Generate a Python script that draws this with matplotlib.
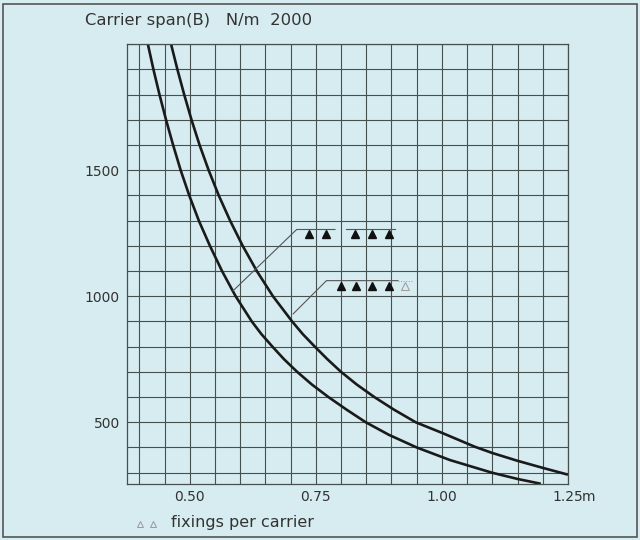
import matplotlib
matplotlib.use('Agg')
import matplotlib.pyplot as plt
from matplotlib.ticker import MultipleLocator, FixedLocator
from matplotlib.patches import Rectangle

"curve values read off the chart (span in m, load in N/m)"

span_low = [0.417, 0.428, 0.440, 0.453, 0.467, 0.482, 0.499, 0.518, 0.540, 0.564,
            0.591, 0.623, 0.642, 0.664, 0.687, 0.713, 0.742, 0.775, 0.811, 0.849,
            0.895, 0.950, 1.016, 1.099, 1.150, 1.196]
load_low = [2000, 1900, 1800, 1700, 1600, 1500, 1400, 1300, 1200, 1100,
            1000, 900, 850, 800, 750, 700, 650, 600, 550, 500,
            450, 400, 350, 300, 275, 256]

span_up = [0.463, 0.4755, 0.489, 0.5035, 0.5195, 0.5375, 0.5575, 0.580, 0.605, 0.633,
           0.665, 0.703, 0.724, 0.748, 0.773, 0.800, 0.831, 0.866, 0.905, 0.948,
           1.000, 1.065, 1.100, 1.150, 1.200, 1.250]
load_up = [2000, 1900, 1800, 1700, 1600, 1500, 1400, 1300, 1200, 1100,
           1000, 900, 850, 800, 750, 700, 650, 600, 550, 500,
           458, 403, 378, 347, 319, 292]

xticks = [0.50, 0.75, 1.00, 1.25]
xlabels = ['0.50', '0.75', '1.00', '1.25']
yticks = [500, 1000, 1500]
ylabels = ['500', '1000', '1500']

# callouts: leader line (x, y) and fixing triangles
lead1_x = [0.586, 0.712, 0.788]
lead1_y = [1022, 1265, 1265]
seg1_x = [0.809, 0.907]
seg1_y = [1265, 1265]
fix1_x = [0.737, 0.770, 0.827, 0.862, 0.895]
fix1_y = [1249] * 5

lead2_x = [0.705, 0.771, 0.913]
lead2_y = [930, 1062, 1062]
fix2_x = [0.800, 0.829, 0.862, 0.895]
fix2_y = [1039] * 4
opt2_x = [0.926]
opt2_y = [1039]

bg = '#d6ecf0'
gridc = '#46514f'
txt = '#333333'

fig = plt.figure(figsize=(6.4, 5.4), dpi=100, facecolor=bg)
ax = fig.add_axes([0.198, 0.1037, 0.6895, 0.8143], facecolor=bg)

ax.set_xlim(0.375, 1.25)
ax.set_ylim(255, 2000)

ax.xaxis.set_major_locator(FixedLocator(xticks))
ax.set_xticklabels(xlabels)
ax.xaxis.set_minor_locator(MultipleLocator(0.05))
ax.yaxis.set_major_locator(FixedLocator(yticks))
ax.set_yticklabels(ylabels)
ax.yaxis.set_minor_locator(MultipleLocator(100))

ax.grid(which='both', color=gridc, lw=0.8)
ax.set_axisbelow(True)
ax.tick_params(which='both', length=0, labelsize=10, labelcolor=txt)
ax.tick_params(axis='x', pad=4.5)
ax.tick_params(axis='y', pad=5)
for s in ax.spines.values():
    s.set_color(gridc)
    s.set_linewidth(0.9)

"curves"
ax.plot(span_low, load_low, color='#1a1a1a', lw=1.9, solid_capstyle='butt', solid_joinstyle='round')
ax.plot(span_up, load_up, color='#1a1a1a', lw=1.9, solid_capstyle='butt', solid_joinstyle='round',
        clip_on=False)

"callouts"
ax.plot(lead1_x, lead1_y, color='#555555', lw=0.8)
ax.plot(seg1_x, seg1_y, color='#555555', lw=0.8)
ax.plot(fix1_x, fix1_y, linestyle='', marker='^', ms=5.8, color='#111111')
ax.plot(lead2_x, lead2_y, color='#555555', lw=0.8)
ax.plot(fix2_x, fix2_y, linestyle='', marker='^', ms=5.8, color='#111111')
ax.plot(opt2_x, opt2_y, linestyle='', marker='^', ms=5.8, mfc='none', mec='#9a9a9a', mew=0.7)
ax.plot([0.913, 0.942], [1062, 1062], color='#9a9a9a', lw=0.7, linestyle=':')

"unit on last tick"
ax.annotate('m', xy=(1.25, 0), xycoords=('data', 'axes fraction'),
            xytext=(10.0, -4.5 * 100 / 72 / 1.389), textcoords='offset points',
            ha='left', va='top', fontsize=10, color=txt)

"title and note"
fig.text(85 / 640, 1 - 20 / 540, 'Carrier span(B)   N/m  2000', fontsize=11.8,
         color=txt, va='center', ha='left')
fig.text(171 / 640, 1 - 523 / 540, 'fixings per carrier', fontsize=11.5,
         color=txt, va='center', ha='left')
fig.lines.append(plt.Line2D([140 / 640, 153 / 640], [1 - 524 / 540] * 2, transform=fig.transFigure,
                            linestyle='', marker='^', ms=5, mfc='none', mec='#9a9a9a', mew=0.7))

fig.patches.append(Rectangle((3 / 640, 3 / 540), 634 / 640, 533 / 540, transform=fig.transFigure,
                             fill=False, edgecolor='#555555', lw=1.2))

fig.savefig('out.png', dpi=100, facecolor=bg)
